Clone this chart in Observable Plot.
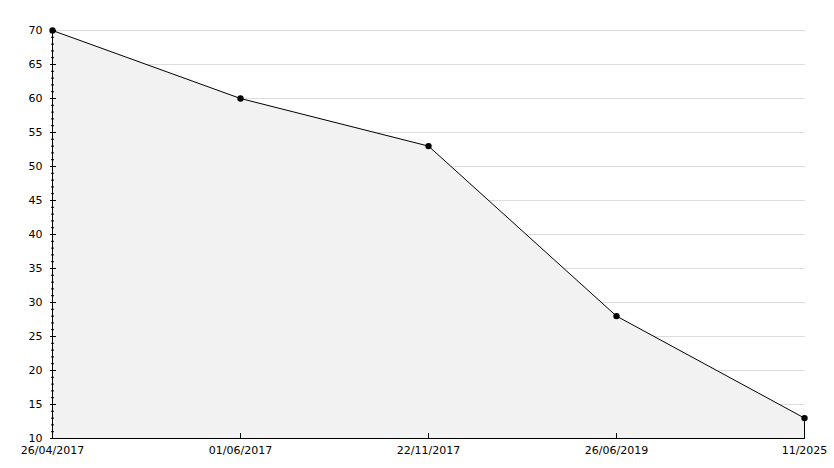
<!DOCTYPE html>
<html>
<head>
<meta charset="utf-8">
<script src="https://cdn.jsdelivr.net/npm/d3@7"></script>
<script src="https://cdn.jsdelivr.net/npm/@observablehq/plot@0.6"></script>
<style>
  html, body { margin: 0; padding: 0; background: #fff; }
  svg { display: block; }
</style>
</head>
<body>
<div id="chart"></div>
<script>
const dates = ["26/04/2017", "01/06/2017", "22/11/2017", "26/06/2019", "11/2025"];
const values = [70, 60, 53, 28, 13];
const majorTicks = [10, 15, 20, 25, 30, 35, 40, 45, 50, 55, 60, 65, 70];
const gridTicks = [15, 20, 25, 30, 35, 40, 45, 50, 55, 60, 65, 70];
const minorTicks = d3.range(10, 71).filter(v => v % 5 !== 0);

const W = 834, H = 468, ML = 51, MR = 29, MT = 30, MB = 30;
const FW = W - ML - MR, FH = H - MT - MB;

const data = dates.map((d, i) => ({date: d, value: values[i]}));
const last = data[data.length - 1];

const chart = Plot.plot({
  width: W,
  height: H,
  marginLeft: ML,
  marginRight: MR,
  marginTop: MT,
  marginBottom: MB,
  style: {fontFamily: "DejaVu Sans", fontSize: "11px", background: "#fff", color: "#000"},
  x: {type: "point", domain: dates, padding: 0, label: null},
  y: {domain: [10, 70], label: null},
  marks: [
    Plot.ruleY(gridTicks, {stroke: "#dddddd", strokeWidth: 1}),
    Plot.areaY(data, {x: "date", y1: 10, y2: "value", fill: "#f2f2f2"}),
    Plot.ruleX([last], {x: "date", y1: 10, y2: "value", stroke: "#000"}),
    Plot.lineY(data, {x: "date", y: "value", stroke: "#000", strokeWidth: 1}),
    Plot.dot(data, {x: "date", y: "value", r: 3.2, fill: "#000", stroke: "none"}),
    Plot.tickY(minorTicks, {y: d => d, stroke: "#000", insetRight: FW - 3}),
    Plot.tickY(majorTicks, {y: d => d, stroke: "#000", insetLeft: -1, insetRight: FW - 5}),
    Plot.tickX(dates, {x: d => d, stroke: "#000", insetTop: FH - 5}),
    Plot.axisY(majorTicks, {anchor: "left", tickSize: 0, tickPadding: 9, label: null}),
    Plot.axisX(dates, {anchor: "bottom", tickSize: 0, tickPadding: 8, label: null}),
    Plot.ruleX([dates[0]], {stroke: "#000"}),
    Plot.ruleY([10], {stroke: "#000"})
  ]
});
document.getElementById("chart").appendChild(chart);
</script>
</body>
</html>
